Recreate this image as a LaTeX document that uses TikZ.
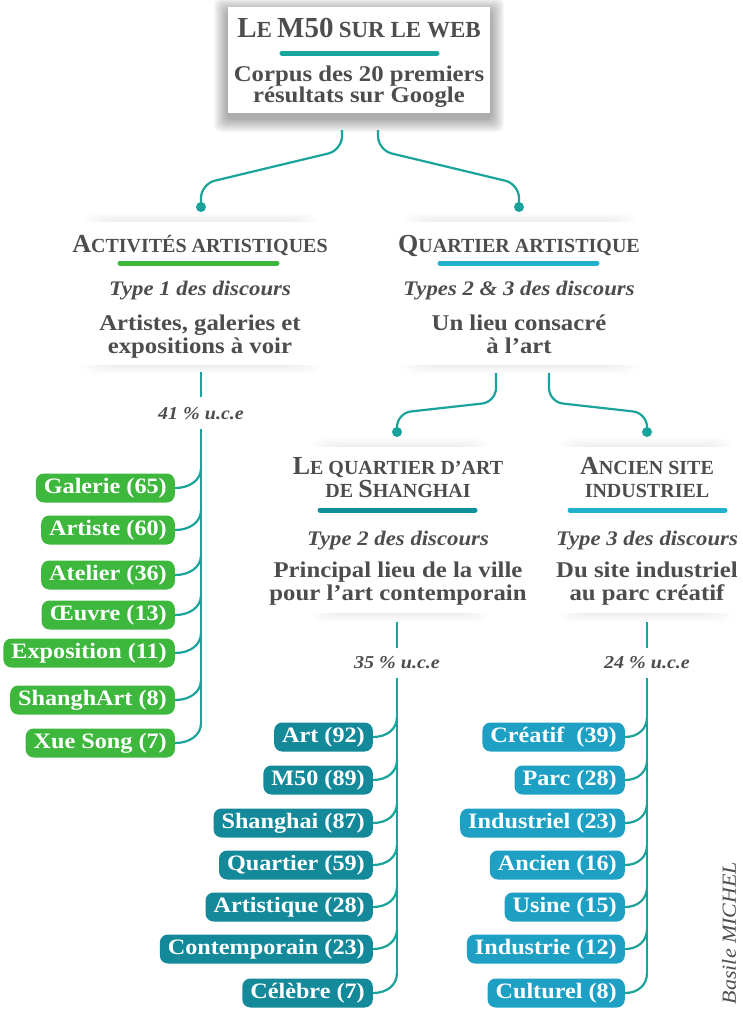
\documentclass[tikz,border=0pt]{standalone}
\usepackage{fontspec}
\setmainfont{Liberation Serif}[FakeStretch=1.1]
\newfontfamily\headfont{Liberation Serif}
\usetikzlibrary{calc}
\definecolor{txt}{HTML}{4D4D4D}
\definecolor{ln}{HTML}{1AA39A}
\definecolor{grn}{HTML}{3DB83D}
\definecolor{dteal}{HTML}{13899A}
\definecolor{cyn}{HTML}{1DA0C4}
\definecolor{ulteal}{HTML}{17A59E}
\definecolor{ulcyan}{HTML}{22B0CF}
\definecolor{uldteal}{HTML}{10909C}
\newcommand\Tb[1]{{\fontsize{29}{29}\selectfont #1}}
\newcommand\Ts[1]{{\fontsize{23}{23}\selectfont #1}}
\newcommand\Cb[1]{{\fontsize{26}{26}\selectfont #1}}
\newcommand\Cs[1]{{\fontsize{20}{20}\selectfont #1}}
\newcommand\softcard[4]{%
  \foreach \k in {1,...,9}{\fill[black,opacity=0.008,rounded corners=12pt] (#1+36-\k*3,#2-\k) rectangle (#3-36+\k*3,#4+\k);}
  \fill[white] (#1,#2) rectangle (#3,#4);}
\tikzset{
  conn/.style={draw=ln, line width=2.2pt},
  dot/.style={circle, fill=ln, inner sep=0pt, minimum size=10pt},
  uline/.style={line width=5pt, line cap=round},
  head/.style={anchor=base, inner sep=0pt, text=txt, font=\headfont\bfseries\fontsize{21}{21}\selectfont},
  body/.style={anchor=base, inner sep=0pt, text=txt, font=\fontsize{22.5}{22.5}\selectfont\bfseries},
  typ/.style={anchor=base, inner sep=0pt, text=txt, font=\fontsize{20.7}{20.7}\selectfont\bfseries\itshape},
  pct/.style={inner sep=0pt, text=txt, font=\fontsize{18.2}{18.2}\selectfont\bfseries\itshape},
  pill/.style={anchor=east, text=white, font=\fontsize{22}{22}\selectfont\bfseries,
    rounded corners=8pt, minimum height=29pt, inner xsep=8pt, inner ysep=0pt,
    text height=16pt, text depth=5pt},
  gpill/.style={pill, fill=grn},
  tpill/.style={pill, fill=dteal},
  cpill/.style={pill, fill=cyn},
}
\begin{document}
\begin{tikzpicture}[x=1pt,y=-1pt]
\useasboundingbox (0,0) rectangle (743,1009);
% ---------- cards (soft shadows)
\softcard{72}{222}{330}{365}
\softcard{392}{222}{648}{365}
\softcard{300}{447}{500}{613}
\softcard{548}{447}{743}{613}
% ---------- top box
\foreach \k in {1,...,14}{\fill[black,opacity=0.026,rounded corners=6pt] (228-\k,7-\k+5) rectangle (490+\k,113+\k+5);}
\node[fill=white, minimum width=262pt, minimum height=106pt, inner sep=0pt] (top) at (359,60) {};
\node[head] (t1) at (359,37) {\Tb{L}\Ts{E} \Tb{M50} \Ts{SUR LE WEB}};
\draw[uline, draw=ulteal] (282,53) -- (437,53);
\node[body] (t2) at (359,81) {Corpus des 20 premiers};
\node[body] (t3) at (359,102) {résultats sur Google};
% ---------- dots
\node[dot] (d1) at (201,207) {};
\node[dot] (d2) at (519,207) {};
\node[dot] (d3) at (397,432) {};
\node[dot] (d4) at (647,432) {};
\draw[conn, rounded corners=14pt] ($(top.south)+(-17,17)$) -- ($(top.south)+(-17,37)$) -- ($(d1)+(0,-23)$) -- (d1.center);
\draw[conn, rounded corners=14pt] ($(top.south)+(19,17)$) -- ($(top.south)+(19,37)$) -- ($(d2)+(0,-23)$) -- (d2.center);
% ---------- level 2 left
\node[head] (a1) at (200,252) {\Cb{A}\Cs{CTIVITÉS ARTISTIQUES}};
\draw[uline, draw=grn] (120,263) -- (277,263);
\node[typ] (a2) at (200,295) {Type 1 des discours};
\node[body] (a3) at (200,330) {Artistes, galeries et};
\node[body] (a4) at (200,353) {expositions à voir};
% ---------- level 2 right
\node[head] (b1) at (519,252) {\Cb{Q}\Cs{UARTIER ARTISTIQUE}};
\draw[uline, draw=ulcyan] (440,263) -- (597,263);
\node[typ] (b2) at (519,295) {Types 2 \& 3 des discours};
\node[body] (b3) at (519,330) {Un lieu consacré};
\node[body] (b4) at (519,353) {à l’art};
\coordinate (b5) at (496,373);
\coordinate (b6) at (549,373);
\draw[conn, rounded corners=14pt] (b5) -- ($(b5)+(0,29)$) -- ($(d3)+(0,-19)$) -- (d3.center);
\draw[conn, rounded corners=14pt] (b6) -- ($(b6)+(0,29)$) -- ($(d4)+(0,-19)$) -- (d4.center);
% ---------- level 3 left
\node[head] (c1) at (398,474) {\Cb{L}\Cs{E QUARTIER D’ART}};
\node[head] (c2) at (398,497) {\Cs{DE} \Cb{S}\Cs{HANGHAI}};
\draw[uline, draw=uldteal] (320,510) -- (475,510);
\node[typ] (c3) at (398,545) {Type 2 des discours};
\node[body] (c4) at (398,577) {Principal lieu de la ville};
\node[body] (c5) at (398,600) {pour l’art contemporain};
% ---------- level 3 right
\node[head] (e1) at (647,474) {\Cb{A}\Cs{NCIEN SITE}};
\node[head] (e2) at (647,497) {\Cs{INDUSTRIEL}};
\draw[uline, draw=ulcyan] (570,510) -- (725,510);
\node[typ] (e3) at (647,545) {Type 3 des discours};
\node[body] (e4) at (647,577) {Du site industriel};
\node[body] (e5) at (647,600) {au parc créatif};
% ---------- percentages
\coordinate (La) at (201,372); \coordinate (Lb) at (201,397); \coordinate (Lc) at (201,429);
\node[pct] (p1) at (201,414) {41 \% u.c.e};
\draw[conn] (La) -- (Lb);
\coordinate (Ma) at (397,622); \coordinate (Mb) at (397,648); \coordinate (Mc) at (397,678);
\node[pct] (p2) at (397,663) {35 \% u.c.e};
\draw[conn] (Ma) -- (Mb);
\coordinate (Ra) at (647,622); \coordinate (Rb) at (647,648); \coordinate (Rc) at (647,678);
\node[pct] (p3) at (647,663) {24 \% u.c.e};
\draw[conn] (Ra) -- (Rb);
% ---------- left pills
\foreach \n/\yy/\t in {1/488/Galerie (65), 2/530/Artiste (60), 3/575/Atelier (36), 4/615/Œuvre (13), 5/653/Exposition (11), 6/700/ShanghArt (8), 7/743/Xue Song (7)}{
  \node[gpill] (g\n) at (175,\yy) {\t};
  \coordinate (gs\n) at (201,\yy-20);
  \draw[conn] (g\n.east) .. controls +(15,0) and +(0,12) .. (gs\n);
}
\draw[conn] (Lc) -- (gs7);
% ---------- middle pills
\foreach \n/\yy/\t in {1/737/Art (92), 2/780/M50 (89), 3/823/Shanghai (87), 4/865/Quartier (59), 5/907/Artistique (28), 6/949/Contemporain (23), 7/993/Célèbre (7)}{
  \node[tpill] (m\n) at (373,\yy) {\t};
  \coordinate (ms\n) at (397,\yy-20);
  \draw[conn] (m\n.east) .. controls +(14,0) and +(0,12) .. (ms\n);
}
\draw[conn] (Mc) -- (ms7);
% ---------- right pills
\foreach \n/\yy/\t in {1/737/Créatif~ (39), 2/780/Parc (28), 3/823/Industriel (23), 4/865/Ancien (16), 5/907/Usine (15), 6/949/Industrie (12), 7/993/Culturel (8)}{
  \node[cpill] (r\n) at (625,\yy) {\t};
  \coordinate (rs\n) at (647,\yy-20);
  \draw[conn] (r\n.east) .. controls +(13,0) and +(0,12) .. (rs\n);
}
\draw[conn] (Rc) -- (rs7);
% ---------- signature
\node[rotate=90, inner sep=0pt, text=txt, font=\fontsize{20}{20}\selectfont\itshape] (sig) at (729,933) {Basile MICHEL};
\end{tikzpicture}
\end{document}
